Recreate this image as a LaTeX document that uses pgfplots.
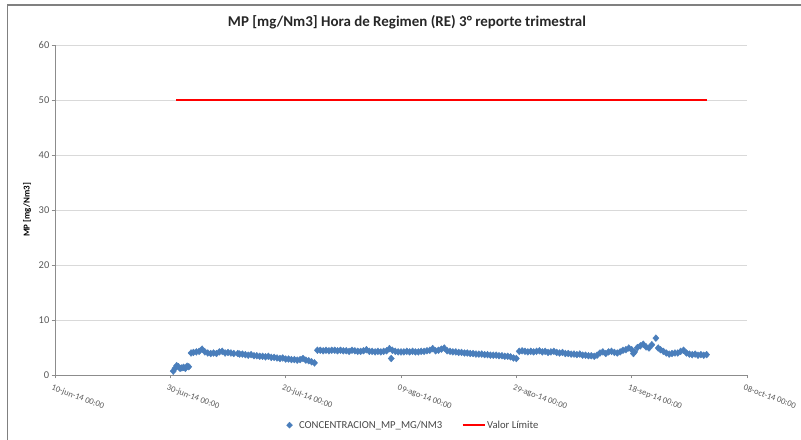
\documentclass[border=0pt]{standalone}
\usepackage{pgfplots}
\pgfplotsset{compat=1.18}
\usepackage{fontspec}
\setmainfont{Carlito}
\definecolor{mpblue}{HTML}{4A7EBB}
\definecolor{gridgray}{HTML}{D9D9D9}
\definecolor{axgray}{HTML}{8C8C8C}
\definecolor{txtgray}{HTML}{595959}
\definecolor{framegray}{HTML}{808080}

\pgfplotstableread{
x y
20.5 0.7
20.8 1.2
21.1 1.7
21.4 1.5
21.7 1.2
22.0 1.3
22.3 1.4
22.6 1.2
22.9 1.6
23.2 1.5
23.6 4.0
24.0 4.1
24.5 4.2
25.0 4.3
25.5 4.7
26.0 4.2
26.5 4.0
27.0 3.9
27.5 4.0
28.0 3.9
28.5 4.2
29.0 4.3
29.5 4.0
30.0 4.1
30.5 4.0
31.0 3.9
31.7 3.9
32.0 3.8
32.5 3.8
33.0 3.7
33.5 3.6
34.0 3.7
34.5 3.5
35.0 3.5
35.5 3.4
36.0 3.4
36.5 3.3
37.0 3.4
37.5 3.2
38.0 3.2
38.5 3.1
39.0 3.0
39.5 3.1
40.0 2.9
40.5 2.9
41.0 2.8
41.5 2.8
42.0 2.7
42.5 2.8
43.0 3.0
43.5 2.7
44.0 2.6
44.5 2.4
45.0 2.2
45.5 4.5
46.0 4.5
46.5 4.4
47.0 4.5
47.5 4.4
48.0 4.5
48.5 4.5
49.0 4.4
49.5 4.5
50.0 4.4
50.5 4.4
51.0 4.3
51.5 4.5
52.0 4.4
52.5 4.3
53.0 4.3
53.5 4.4
54.0 4.6
54.5 4.3
55.0 4.3
55.5 4.2
56.0 4.3
56.5 4.2
57.0 4.3
57.5 4.4
58.0 4.8
58.3 3.0
58.5 4.5
59.0 4.3
59.5 4.2
60.0 4.2
60.5 4.2
61.0 4.3
61.5 4.2
62.0 4.3
62.5 4.2
63.0 4.2
63.5 4.3
64.0 4.3
64.5 4.4
65.0 4.5
65.5 4.8
66.0 4.4
66.5 4.5
67.0 4.7
67.5 4.9
68.0 4.4
68.5 4.3
69.0 4.2
69.5 4.2
70.0 4.1
70.5 4.1
71.0 4.0
71.5 4.0
72.0 3.9
72.5 3.9
73.0 3.8
73.5 3.8
74.0 3.8
74.5 3.7
75.0 3.7
75.5 3.6
76.0 3.6
76.5 3.6
77.0 3.5
77.5 3.5
78.0 3.4
78.5 3.4
79.0 3.3
79.5 3.1
80.0 3.0
80.5 4.3
81.0 4.4
81.5 4.3
82.0 4.2
82.5 4.3
83.0 4.2
83.5 4.3
84.0 4.4
84.5 4.2
85.0 4.3
85.5 4.1
86.0 4.2
86.5 4.3
87.0 4.1
87.5 4.0
88.0 4.1
88.5 3.9
89.0 3.9
89.5 3.8
90.0 3.8
90.5 3.7
91.0 3.8
91.5 3.6
92.0 3.6
92.5 3.5
93.0 3.5
93.5 3.4
94.0 3.6
94.5 4.0
95.0 4.2
95.5 3.9
96.0 4.2
96.5 4.3
97.0 4.1
97.5 4.0
98.0 4.2
98.5 4.5
99.0 4.6
99.5 4.9
100.0 4.6
100.3 3.9
100.5 4.2
101.0 5.0
101.5 5.3
102.0 5.6
102.5 5.1
103.0 4.9
103.5 5.5
104.2 6.7
104.6 4.9
105.0 4.6
105.5 4.3
106.0 4.0
106.5 3.8
107.0 3.9
107.5 4.0
108.0 4.0
108.5 4.3
109.0 4.5
109.5 4.0
110.0 3.8
110.5 3.7
111.0 3.8
111.5 3.6
112.0 3.7
112.5 3.6
113.0 3.7
}\mpdata

\pgfplotstableread{
x y
21 50
113 50
}\limdata

\begin{document}
\begin{tikzpicture}[x=1bp,y=1bp]
\useasboundingbox (0,0) rectangle (801,440);
\draw[framegray, line width=1.2bp] (7.5,-20) -- (7.5,435) -- (830,435);
\node[font=\bfseries\fontsize{15}{17}\selectfont, text=black!85] at (407,418) {MP [mg/Nm3] Hora de Regimen (RE) 3° reporte trimestral};
\node[rotate=90, font=\bfseries\fontsize{9}{10}\selectfont, text=black] at (27,230) {MP [mg/Nm3]};
\begin{axis}[
  at={(55bp,65bp)}, anchor=south west,
  scale only axis, width=692bp, height=330bp,
  xmin=0, xmax=120, ymin=0, ymax=60,
  xtick={0,20,...,120},
  xticklabels={10-jun-14 00:00, 30-jun-14 00:00, 20-jul-14 00:00, 09-ago-14 00:00, 29-ago-14 00:00, 18-sep-14 00:00, 08-oct-14 00:00},
  ytick={0,10,...,60},
  ymajorgrids, grid style={gridgray, line width=0.9bp},
  axis x line*=bottom, axis y line*=left,
  axis line style={axgray, line width=0.8bp},
  tick align=outside, major tick length=3.5bp,
  tick style={axgray, line width=0.8bp},
  /pgf/number format/assume math mode=true,
  yticklabel style={font=\fontsize{10.5}{12}\selectfont, text=txtgray, inner sep=2bp},
  xticklabel style={font=\fontsize{8.6}{10}\selectfont, text=txtgray, rotate=-20, anchor=north west, inner sep=1bp, xshift=-1bp, yshift=-5bp},
  legend columns=2,
  legend style={draw=none, fill=none, at={(0.517,-0.152)}, anchor=center,
    font=\fontsize{10.7}{12}\selectfont, text=txtgray!80!black,
    /tikz/every even column/.append style={column sep=18bp},
    nodes={inner sep=1.5bp}},
  clip=false,
]
\addplot[only marks, mark=diamond*, mark size=3.4bp, mpblue, mark options={xscale=1.2, draw=mpblue, fill=mpblue},
  legend image code/.code={\path[draw=none] (0bp,0bp) (12bp,0bp); \draw[mpblue, mark=diamond*, mark size=3bp, mark options={xscale=1.3}, only marks] plot coordinates {(4bp,0bp)};}]
  table[x=x, y=y] {\mpdata};
\addlegendentry{CONCENTRACION\_MP\_MG/NM3}
\addplot[red, line width=1.7bp, no marks,
  legend image code/.code={\draw[red, line width=1.7bp] (0bp,0bp) -- (22bp,0bp);}]
  table[x=x, y=y] {\limdata};
\addlegendentry{Valor Límite}
\end{axis}
\end{tikzpicture}
\end{document}
